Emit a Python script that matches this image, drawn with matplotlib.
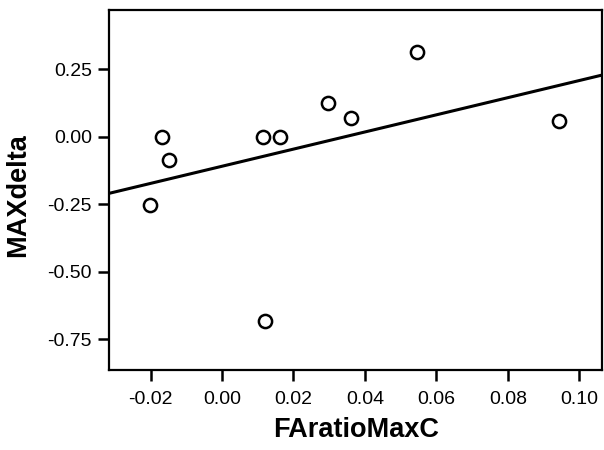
import numpy as np
import matplotlib
matplotlib.use("Agg")
import matplotlib.pyplot as plt

# values
fa_ratio = [-0.0168, -0.0148, -0.0201, 0.0115, 0.0163, 0.0121, 0.0298, 0.0360, 0.0545, 0.0943]
max_delta = [0.000, -0.086, -0.253, 0.000, 0.000, -0.683, 0.125, 0.069, 0.314, 0.058]

xticks = [-0.02, 0.00, 0.02, 0.04, 0.06, 0.08, 0.10]
yticks = [0.25, 0.00, -0.25, -0.50, -0.75]

plt.rcParams['font.family'] = ['Liberation Sans', 'DejaVu Sans']

fig = plt.figure(figsize=(6.04, 4.5), dpi=100)
ax = fig.add_axes([0.180, 0.178, 0.8175, 0.800])

xlim = (-0.0317, 0.1065)
ax.set_xlim(*xlim)
ax.set_ylim(-0.864, 0.469)

# least squares fit line across the plot area
slope, intercept = np.polyfit(fa_ratio, max_delta, 1)
xs = np.array(xlim)
ax.plot(xs, slope * xs + intercept, color='black', lw=2.2, solid_capstyle='butt')

ax.plot(fa_ratio, max_delta, 'o', ms=9.5, mfc='white', mec='black', mew=1.8,
        clip_on=False)

ax.set_xticks(xticks)
ax.set_xticklabels([f"{t:.2f}" for t in xticks])
ax.set_yticks(yticks)
ax.set_yticklabels([f"{t:.2f}" for t in yticks])

for s in ax.spines.values():
    s.set_linewidth(1.6)
ax.tick_params(direction='out', length=8, width=1.8, labelsize=14)
ax.tick_params(axis='x', pad=7)
ax.tick_params(axis='y', pad=4)

ax.set_xlabel('FAratioMaxC', fontsize=19.5, fontweight='bold', labelpad=7)
ax.set_ylabel('MAXdelta', fontsize=19.5, fontweight='bold')
ax.yaxis.set_label_coords(-0.158, 0.486)

fig.savefig('out.png', dpi=100)
